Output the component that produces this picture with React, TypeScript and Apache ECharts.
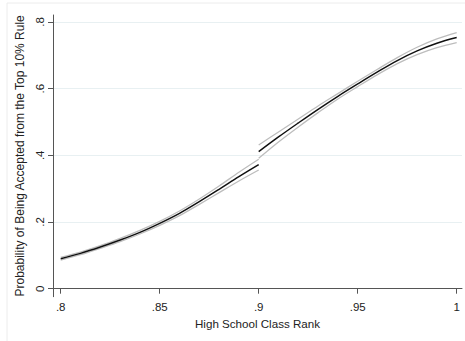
import React, { useEffect, useRef } from "react";
import * as echarts from "echarts";

// High school class rank (x) values
const rankLeft = [0.8, 0.81, 0.82, 0.83, 0.84, 0.85, 0.86, 0.87, 0.88, 0.89, 0.9];
const rankRight = [0.9, 0.91, 0.92, 0.93, 0.94, 0.95, 0.96, 0.97, 0.98, 0.99, 1.0];

// Predicted probability, below the 0.9 cutoff
const probLeft = [0.09, 0.106, 0.125, 0.146, 0.169, 0.196, 0.226, 0.261, 0.298, 0.336, 0.372];
const lowerLeft = [0.086, 0.102, 0.121, 0.141, 0.164, 0.19, 0.219, 0.253, 0.288, 0.323, 0.356];
const upperLeft = [0.094, 0.11, 0.129, 0.151, 0.175, 0.202, 0.233, 0.269, 0.308, 0.349, 0.388];

// Predicted probability, at/above the 0.9 cutoff
const probRight = [0.411, 0.455, 0.497, 0.538, 0.577, 0.614, 0.65, 0.684, 0.713, 0.736, 0.753];
const lowerRight = [0.391, 0.44, 0.485, 0.528, 0.569, 0.606, 0.642, 0.675, 0.702, 0.723, 0.738];
const upperRight = [0.431, 0.47, 0.509, 0.548, 0.585, 0.622, 0.658, 0.693, 0.724, 0.749, 0.768];

const xTicks = [0.8, 0.85, 0.9, 0.95, 1];
const yTicks = [0, 0.2, 0.4, 0.6, 0.8];

const xTitle = "High School Class Rank";
const yTitle = "Probability of Being Accepted from the Top 10% Rule";

const fmt = (v: number) => {
  const r = Math.round(v * 100) / 100;
  if (r === 0) return "0";
  if (r === 1) return "1";
  return String(r).replace(/^0/, "");
};

const pairs = (xs: number[], ys: number[]) => xs.map((x, i) => [x, ys[i]]);

export default function App() {
  const ref = useRef<HTMLDivElement>(null);
  useEffect(() => {
    if (!ref.current) return;
    const chart = echarts.init(ref.current, null, { renderer: "svg" });
    const font = "'Liberation Sans', Arial, Helvetica, sans-serif";
    const ciStyle = { color: "#bdbdbd", width: 1.3 };
    const mainStyle = { color: "#111111", width: 1.5 };
    const mk = (data: number[][], style: any, z: number) => ({
      type: "line",
      data,
      showSymbol: false,
      smooth: 0.35,
      lineStyle: style,
      itemStyle: { color: style.color },
      z,
      silent: true,
    });
    chart.setOption({
      animation: false,
      backgroundColor: "#ffffff",
      graphic: [
        {
          type: "rect",
          shape: { x: 7, y: 3, width: 480, height: 360 },
          style: { fill: "none", stroke: "#ececec", lineWidth: 1 },
          silent: true,
        },
      ],
      grid: { left: 53, right: 3, top: 15, bottom: 44.3, containLabel: false },
      xAxis: {
        type: "value",
        min: 0.796111,
        max: 1.00268,
        axisLine: { show: true, lineStyle: { color: "#555555", width: 1 } },
        axisTick: { show: true, customValues: xTicks, length: 5, lineStyle: { color: "#555555" } },
        axisLabel: {
          customValues: xTicks,
          formatter: (v: number) => fmt(v),
          color: "#222222",
          fontFamily: font,
          fontSize: 11.5,
          margin: 4,
        },
        splitLine: { show: false },
        name: xTitle,
        nameLocation: "middle",
        nameGap: 19,
        nameTextStyle: { color: "#222222", fontFamily: font, fontSize: 11.6 },
      },
      yAxis: {
        type: "value",
        min: -0.024,
        max: 0.8207,
        axisLine: { show: true, lineStyle: { color: "#555555", width: 1 } },
        axisTick: { show: true, customValues: yTicks, length: 5, lineStyle: { color: "#555555" } },
        axisLabel: {
          customValues: yTicks,
          formatter: (v: number) => fmt(v),
          rotate: 90,
          color: "#222222",
          fontFamily: font,
          fontSize: 11.5,
          margin: 7,
        },
        splitLine: { show: true, lineStyle: { color: "#e8f0f2", width: 1 } },
        name: yTitle,
        nameLocation: "middle",
        nameRotate: 90,
        nameGap: 19,
        nameTextStyle: { color: "#222222", fontFamily: font, fontSize: 12 },
      },
      series: [
        mk(pairs(rankLeft, lowerLeft), ciStyle, 2),
        mk(pairs(rankLeft, upperLeft), ciStyle, 2),
        mk(pairs(rankRight, lowerRight), ciStyle, 2),
        mk(pairs(rankRight, upperRight), ciStyle, 2),
        mk(pairs(rankLeft, probLeft), mainStyle, 3),
        mk(pairs(rankRight, probRight), mainStyle, 3),
      ],
    });
    return () => chart.dispose();
  }, []);
  return (
    <div
      ref={ref}
      style={{ position: "absolute", left: 0, top: 0, width: 465, height: 341, background: "#fff" }}
    />
  );
}
